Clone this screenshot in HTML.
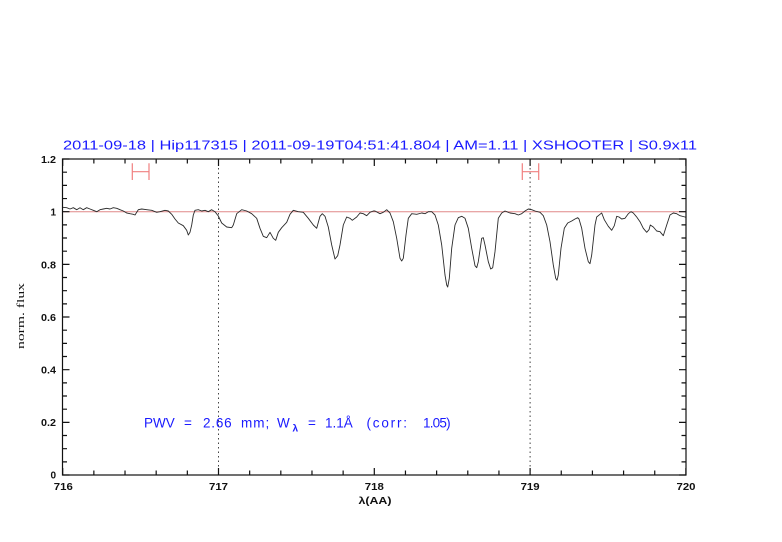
<!DOCTYPE html>
<html>
<head>
<meta charset="utf-8">
<style>
html,body{margin:0;padding:0;background:#fff;}
svg{display:block;}
</style>
</head>
<body>
<svg width="782" height="542" viewBox="0 0 782 542" xmlns="http://www.w3.org/2000/svg">
<rect width="782" height="542" fill="#fff"/>
<!-- title -->
<text x="63" y="149.5" font-family="Liberation Sans, sans-serif" font-size="12.5" fill="#1a1aff" textLength="634" lengthAdjust="spacingAndGlyphs">2011-09-18 | Hip117315 | 2011-09-19T04:51:41.804 | AM=1.11 | XSHOOTER | S0.9x11</text>

<!-- dotted verticals -->
<line x1="218.5" y1="159" x2="218.5" y2="475" stroke="#444" stroke-width="1" stroke-dasharray="1.5,3"/>
<line x1="530.1" y1="159" x2="530.1" y2="475" stroke="#444" stroke-width="1" stroke-dasharray="1.5,3"/>

<!-- continuum line -->
<line x1="62.5" y1="211.7" x2="686" y2="211.7" stroke="#e08888" stroke-width="1"/>

<!-- error bars -->
<g stroke="#f08080" stroke-width="1.2" fill="none">
<path d="M132.3 171.7H149M132.3 163.3V180M149 163.3V180"/>
<path d="M522.3 171.7H538.7M522.3 163.3V180M538.7 163.3V180"/>
</g>

<!-- spectrum -->
<polyline fill="none" stroke="#2a2a2a" stroke-width="0.9" stroke-linejoin="round" points="62.7,207.3 66.7,207.7 70,209 73.3,207.7 76.7,209.7 80,207.7 83.3,209.7 86.7,207.7 90,209 93.3,210.3 96.7,211.7 100,209.7 103.3,209 106.7,208.3 110,209 113.3,207.7 116.7,208.3 120,209.7 123.3,211 126.7,213 130,213.7 133.3,214.3 135,215 138.3,209.7 141.7,209 146.7,209.7 151.7,210.3 156.7,212.3 160,211.7 165,210.3 168.3,211 171.7,214.3 175,219 178.3,223 183.3,225.7 186.7,230.3 188.3,235 190,232.3 191.7,225 193.3,215 195,210.3 198.3,209.7 201.7,211 205,210.3 208.3,211.7 211.7,209.7 215,211.7 218.3,216 221.7,223 226.7,227 231.7,227.7 233.3,225 236.7,213.7 241.7,209.7 246.7,211 251.7,213.7 256.7,218.3 260,228.3 263.3,236.3 266.7,237.7 270,232.3 273.3,238.3 275.7,240.3 278.3,232.3 281.7,227.7 286.7,222.3 290,214.3 293.3,210.3 298.3,211.7 303.3,212.3 308.3,218.3 313.3,225 316.7,228.3 320,216.3 322.3,213.7 325,216.3 328.3,227 331.7,245 335,259 337.7,255.7 340,245 343.3,225 346.7,217 350,218.3 352.3,220.3 356.7,217 360,213 363.3,213.7 366.7,215.7 370,212.3 373.3,211 375,211 380,213.7 383.3,212.3 386.7,209.7 390,213 393.3,221.7 396.7,238.3 400,258.3 401.7,261 403.3,258.3 406,235 408.3,218.3 411.7,213.7 416.7,214.3 421.7,213 425,213.7 428.3,211.7 431.7,211.7 435,215 438.3,225 441.7,245 445,275 446.7,285 447.7,287 449.3,278.3 451.7,248.3 455,225 458.3,217.7 461.7,216.3 465,218.3 468.3,228.3 471.7,248.3 475,265.7 476.7,267.7 478.3,261.7 481.7,238.3 483.3,237.7 485,245 488.3,261.7 490.7,269 492.7,267.7 495,251.7 498.3,218.3 501.7,213 505,211 510,213 515,213.7 518.3,215 521.7,213.7 525,211 528.3,209 531.7,209.7 535,211 540,212.3 543.3,215.7 546.7,225 550,241.7 553.3,265 555.7,278.3 557,280.3 558.3,275 561,248.3 564.3,228.3 567.7,223 571.7,221 575,219 577.7,217.7 579,219 581.7,228.3 585,248.3 588.3,261.7 590,263.7 591.7,255 595,225 596.7,217 600,214.3 601.7,213 604.3,219.7 608.3,226.3 611.7,230.3 614.3,225.7 616.7,216.3 619,217 621.7,219 625,218.3 628.3,213.7 631,211.7 633.3,213 636.7,217 640,221.7 643.3,228.3 646.7,232.3 649,229.7 650.3,225 653.3,227 656.7,231 660,231.7 663.3,235.7 666.7,225 670,215 673.3,213 676.7,213.7 680,215.7 685,217 686,217.3"/>

<!-- axes box -->
<rect x="62.5" y="159" width="623.5" height="316" fill="none" stroke="#111" stroke-width="1.2"/>

<!-- ticks -->
<g stroke="#111" stroke-width="1.2" fill="none">
<path d="M62.5 475h7M62.5 461.84h4.5M62.5 448.67h4.5M62.5 435.5h4.5M62.5 422.34h7M62.5 409.18h4.5M62.5 396.01h4.5M62.5 382.85h4.5M62.5 369.68h7M62.5 356.52h4.5M62.5 343.35h4.5M62.5 330.19h4.5M62.5 317.02h7M62.5 303.86h4.5M62.5 290.69h4.5M62.5 277.53h4.5M62.5 264.36h7M62.5 251.2h4.5M62.5 238.03h4.5M62.5 224.87h4.5M62.5 211.7h7M62.5 198.54h4.5M62.5 185.37h4.5M62.5 172.21h4.5M62.5 159h7"/>
<path d="M686 475h-7M686 461.84h-4.5M686 448.67h-4.5M686 435.5h-4.5M686 422.34h-7M686 409.18h-4.5M686 396.01h-4.5M686 382.85h-4.5M686 369.68h-7M686 356.52h-4.5M686 343.35h-4.5M686 330.19h-4.5M686 317.02h-7M686 303.86h-4.5M686 290.69h-4.5M686 277.53h-4.5M686 264.36h-7M686 251.2h-4.5M686 238.03h-4.5M686 224.87h-4.5M686 211.7h-7M686 198.54h-4.5M686 185.37h-4.5M686 172.21h-4.5M686 159h-7"/>
<path d="M62.7 475v-7M93.86 475v-4.5M125.02 475v-4.5M156.18 475v-4.5M187.34 475v-4.5M218.5 475v-7M249.66 475v-4.5M280.82 475v-4.5M311.98 475v-4.5M343.14 475v-4.5M374.3 475v-7M405.46 475v-4.5M436.62 475v-4.5M467.78 475v-4.5M498.94 475v-4.5M530.1 475v-7M561.26 475v-4.5M592.42 475v-4.5M623.58 475v-4.5M654.74 475v-4.5M685.9 475v-7"/>
<path d="M62.7 159v7M93.86 159v4.5M125.02 159v4.5M156.18 159v4.5M187.34 159v4.5M218.5 159v7M249.66 159v4.5M280.82 159v4.5M311.98 159v4.5M343.14 159v4.5M374.3 159v7M405.46 159v4.5M436.62 159v4.5M467.78 159v4.5M498.94 159v4.5M530.1 159v7M561.26 159v4.5M592.42 159v4.5M623.58 159v4.5M654.74 159v4.5M685.9 159v7"/>
</g>

<!-- y tick labels -->
<g font-family="Liberation Sans, sans-serif" font-size="10" font-weight="bold" fill="#111" text-anchor="end">
<text x="56" y="478.5">0</text>
<text x="56" y="426" textLength="15" lengthAdjust="spacingAndGlyphs">0.2</text>
<text x="56" y="373.5" textLength="15" lengthAdjust="spacingAndGlyphs">0.4</text>
<text x="56" y="321" textLength="15" lengthAdjust="spacingAndGlyphs">0.6</text>
<text x="56" y="268.3" textLength="15" lengthAdjust="spacingAndGlyphs">0.8</text>
<text x="56" y="215.5">1</text>
<text x="56" y="163" textLength="15" lengthAdjust="spacingAndGlyphs">1.2</text>
</g>

<!-- x tick labels -->
<g font-family="Liberation Sans, sans-serif" font-size="10" font-weight="bold" fill="#111" text-anchor="middle">
<text x="63.3" y="490" textLength="19" lengthAdjust="spacingAndGlyphs">716</text>
<text x="218.5" y="490" textLength="19" lengthAdjust="spacingAndGlyphs">717</text>
<text x="374.3" y="490" textLength="19" lengthAdjust="spacingAndGlyphs">718</text>
<text x="530.1" y="490" textLength="19" lengthAdjust="spacingAndGlyphs">719</text>
<text x="686" y="490" textLength="19" lengthAdjust="spacingAndGlyphs">720</text>
</g>

<!-- axis labels -->
<text x="375" y="504" font-family="Liberation Sans, DejaVu Sans, sans-serif" font-size="10" font-weight="bold" fill="#111" text-anchor="middle" textLength="33" lengthAdjust="spacingAndGlyphs">λ(AA)</text>
<text transform="translate(24,316) rotate(-90)" x="0" y="0" font-family="Liberation Serif, serif" font-size="11" fill="#111" text-anchor="middle" textLength="66" lengthAdjust="spacingAndGlyphs">norm. flux</text>

<!-- PWV annotation -->
<g font-family="Liberation Sans, DejaVu Sans, sans-serif" font-size="13.5" fill="#1a1aff">
<text x="144" y="427.3">PWV</text>
<text x="184" y="427.3">=</text>
<text x="203" y="427.3" letter-spacing="0.8">2.66</text>
<text x="241" y="427.3" letter-spacing="1">mm;</text>
<text x="277" y="427.3">W</text>
<text x="292.5" y="431.5" font-size="10" font-weight="bold">λ</text>
<text x="308" y="427.3">=</text>
<text x="325" y="427.3">1.1Å</text>
<text x="366.5" y="427.3" letter-spacing="1.8">(corr:</text>
<text x="423" y="427.3" letter-spacing="-0.8">1.05)</text>
</g>
</svg>
</body>
</html>
